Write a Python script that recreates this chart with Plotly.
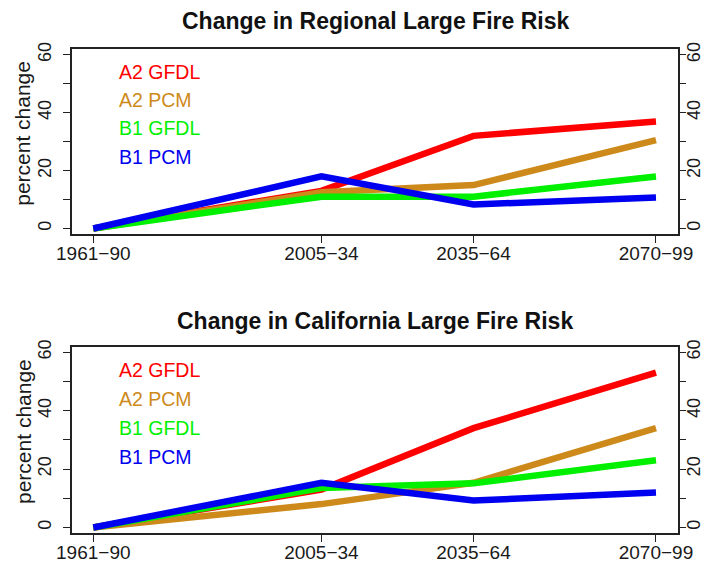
import plotly.graph_objects as go

# Periods and their plotting positions (mid-period years)
periods = ["1961\u221290", "2005\u221234", "2035\u221264", "2070\u221299"]
period_pos = [1975, 2020, 2050, 2086]

scenarios = ["A2 GFDL", "A2 PCM", "B1 GFDL", "B1 PCM"]
colors = ["#FF0000", "#CD8A1A", "#00F000", "#0000F0"]

# Percent change in large fire risk, regional
regional = {
    "A2 GFDL": [0, 13.0, 32.0, 37.0],
    "A2 PCM": [0, 12.5, 15.0, 30.5],
    "B1 GFDL": [0, 11.0, 11.0, 18.0],
    "B1 PCM": [0, 18.0, 8.3, 10.7],
}
# Percent change in large fire risk, California
california = {
    "A2 GFDL": [0, 13.0, 34.0, 53.0],
    "A2 PCM": [0, 8.0, 15.3, 34.0],
    "B1 GFDL": [0, 13.5, 15.1, 23.0],
    "B1 PCM": [0, 15.3, 9.2, 12.0],
}

titles = ["Change in Regional Large Fire Risk", "Change in California Large Fire Risk"]
y_ticks = [0, 10, 20, 30, 40, 50, 60]
y_ticktext = ["0", "", "20", "", "40", "", "60"]

W, H = 704, 563
FONT = "Liberation Sans, Arial, Helvetica, sans-serif"

# panel geometry in pixels: (left, right, top, bottom)
panels = [(71.7, 678.3, 49.3, 234.3), (71.7, 678.3, 346.7, 533.3)]
title_y = [21, 321]
legend_y = [[71.7, 100.0, 128.3, 156.7], [370.0, 399.3, 428.3, 456.7]]

fig = go.Figure()

axis_common = dict(
    showgrid=False, zeroline=False, ticks="outside", ticklen=7, tickwidth=1.3,
    tickcolor="#222", linecolor="#222", linewidth=1.5, automargin=False,
)
xfont = dict(family=FONT, size=19, color="#1a1a1a")
yfont = dict(family=FONT, size=18, color="#1a1a1a")

for i, (data, ttl) in enumerate(zip([regional, california], titles)):
    l, r, t, b = panels[i]
    xa = "x" if i == 0 else "x2"
    ya = "y" if i == 0 else "y2"
    yr = "y3" if i == 0 else "y4"
    for name, col in zip(scenarios, colors):
        fig.add_trace(go.Scatter(
            x=period_pos, y=data[name], mode="lines", name=name,
            line=dict(color=col, width=6.5),
            xaxis=xa, yaxis=ya, showlegend=False, hoverinfo="skip",
        ))
    # companion trace for the right-hand axis
    fig.add_trace(go.Scatter(x=[None], y=[None], xaxis=xa, yaxis=yr,
                             showlegend=False, hoverinfo="skip"))

    xdom = [l / W, r / W]
    ydom = [1 - b / H, 1 - t / H]
    xkey = "xaxis" if i == 0 else "xaxis2"
    ykey = "yaxis" if i == 0 else "yaxis2"
    yrkey = "yaxis3" if i == 0 else "yaxis4"
    fig.update_layout({
        xkey: dict(domain=xdom, range=[1970.74, 2090.4], anchor=ya,
                   tickvals=period_pos, ticktext=periods, showline=True,
                   mirror=True, ticklabelstandoff=-6, tickfont=xfont,
                   **axis_common),
        ykey: dict(domain=ydom, range=[-2.0, 61.9], anchor=xa,
                   tickvals=y_ticks, ticktext=y_ticktext, tickangle=-90,
                   showline=True, mirror=True, ticklabelstandoff=5,
                   tickfont=yfont, **axis_common),
        yrkey: dict(overlaying=ya, side="right", anchor=xa, range=[-2.0, 61.9],
                    tickvals=y_ticks, ticktext=y_ticktext, tickangle=-90,
                    showline=False, ticklabelstandoff=-8, tickfont=yfont,
                    **axis_common),
    })

    # panel title
    fig.add_annotation(text="<b>" + ttl + "</b>", xref="paper", yref="paper",
                       x=(l + r) / 2 / W, y=1 - title_y[i] / H,
                       xanchor="center", yanchor="middle", showarrow=False,
                       font=dict(family=FONT, size=23, color="#111"))
    # y-axis label
    fig.add_annotation(text="percent change", xref="paper", yref="paper",
                       x=23 / W, y=1 - ((t + b) / 2 - 8) / H, textangle=-90,
                       xanchor="center", yanchor="middle", showarrow=False,
                       font=dict(family=FONT, size=21, color="#1a1a1a"))
    # coloured scenario labels
    for name, col, ly in zip(scenarios, colors, legend_y[i]):
        fig.add_annotation(text=name, xref="paper", yref="paper",
                           x=117 / W, y=1 - ly / H, xanchor="left",
                           yanchor="middle", showarrow=False,
                           font=dict(family=FONT, size=19.5, color=col))

fig.update_layout(
    width=W, height=H, margin=dict(l=0, r=0, t=0, b=0),
    paper_bgcolor="white", plot_bgcolor="white", showlegend=False,
)

fig.write_html("out.html")
